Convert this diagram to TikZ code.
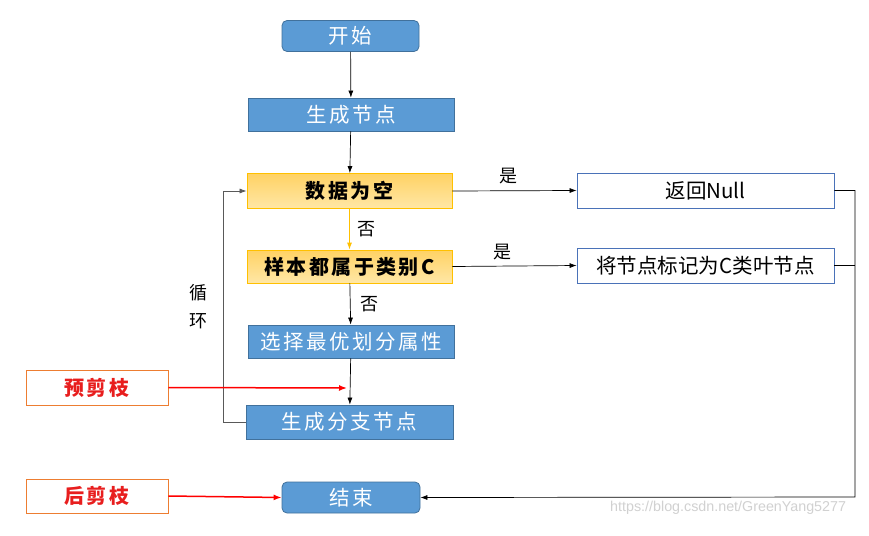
\documentclass[tikz,border=0pt]{standalone}
\usepackage{fontspec}
\newfontfamily\cjk{Noto Sans CJK SC}
\newfontfamily\cjkspaced[LetterSpace=12]{Noto Sans CJK SC}
\setsansfont{Liberation Sans}
\usetikzlibrary{arrows.meta}
\definecolor{bfill}{HTML}{5B9BD5}
\definecolor{bdraw}{HTML}{41719C}
\definecolor{otop}{HTML}{FFD264}
\definecolor{obot}{HTML}{FFE7A6}
\definecolor{odraw}{HTML}{FFC000}
\definecolor{wdraw}{HTML}{4A72B8}
\definecolor{pdraw}{HTML}{ED7D31}
\definecolor{ptext}{HTML}{E81E1E}
\definecolor{loopc}{HTML}{595959}
\tikzset{
  base/.style={rectangle, inner sep=0pt, font=\cjkspaced\fontsize{20.5}{24}\selectfont},
  bluebox/.style={base, fill=bfill, draw=bdraw, line width=0.8pt, text=white, minimum width=206pt, minimum height=33pt},
  roundbox/.style={bluebox, rounded corners=5pt, minimum width=137pt, minimum height=31pt},
  orangebox/.style={base, top color=otop, bottom color=obot, draw=odraw, line width=0.8pt, text=black, minimum width=205pt, minimum height=35pt, font=\cjkspaced\bfseries\fontsize{20}{24}\selectfont},
  whitebox/.style={base, fill=white, draw=wdraw, line width=0.8pt, text=black, minimum width=257pt, minimum height=35pt, font=\cjk\fontsize{20.5}{24}\selectfont},
  prunebox/.style={base, fill=white, draw=pdraw, line width=0.8pt, text=ptext, minimum width=142pt, minimum height=35pt, font=\cjkspaced\bfseries\fontsize{20}{24}\selectfont},
  lbl/.style={font=\cjk\fontsize{18}{21}\selectfont, inner sep=0pt},
  arr/.style={-{Latex[length=7pt,width=5pt]}, line width=0.7pt, draw=black},
  oarr/.style={-{Latex[length=7pt,width=5pt]}, line width=0.9pt, draw=odraw},
  rarr/.style={-{Latex[length=8pt,width=6pt]}, line width=1.5pt, draw=red},
  ln/.style={line width=0.7pt, draw=black}
}
\begin{document}
\begin{tikzpicture}[x=1pt,y=-1pt]
\useasboundingbox (0,0) rectangle (869,535);
\fill[white] (0,0) rectangle (869,535);

\node[roundbox] (start) at (350.5,36) {开始};
\node[bluebox] (gen) at (351,114.5) {生成节点};
\node[orangebox] (data) at (349.5,191) {数据为空};
\node[orangebox, minimum height=33pt] (same) at (349.5,266.5) {样本都属于类别C};
\node[bluebox] (sel) at (351,341.5) {选择最优划分属性};
\node[bluebox, minimum width=207pt, minimum height=34pt] (branch) at (349.5,422) {生成分支节点};
\node[roundbox, minimum width=138pt] (end) at (351,497.5) {结束};

\node[whitebox] (null) at (705.5,190.5) {返回Null};
\node[whitebox] (leaf) at (705.5,265.5) {将节点标记为C类叶节点};

\node[prunebox] (pre) at (97,387.5) {预剪枝};
\node[prunebox, minimum height=34pt] (post) at (97,496) {后剪枝};

\draw[arr] (start) -- (gen);
\draw[arr] (gen) -- (data);
\draw[oarr] (data) -- node[lbl, right=8pt, text=black] {否} (same);
\draw[arr] (same) -- node[lbl, right=10pt] {否} (sel);
\draw[arr] (sel) -- (branch);
\draw[arr] (data.east) -- node[lbl, above=6pt, pos=0.45] {是} (null.west);
\draw[arr] (same.east) -- node[lbl, above=6pt, pos=0.4] {是} (leaf.west);

\coordinate (loopL) at (223,422);
\draw[arr, draw=loopc] (branch.west) -- (loopL) |- (data.west);
\node[lbl, align=center, font=\cjk\fontsize{18}{28}\selectfont] (loopt) at (198,307) {循\\环};

\coordinate (rR) at (855,497);
\draw[arr] (null.east) -- (null.east -| rR) -- (rR) -- (end.east);
\draw[ln] (leaf.east) -- (leaf.east -| rR);

\coordinate (preEnd) at (347,388);
\draw[rarr] (pre.east) -- (preEnd);
\draw[rarr] (post.east) -- (end.west);

\node[font=\sffamily\fontsize{14.3}{16}\selectfont, text=black!18, anchor=west, inner sep=0pt] (wm) at (610,508) {https://blog.csdn.net/GreenYang5277};
\end{tikzpicture}
\end{document}
